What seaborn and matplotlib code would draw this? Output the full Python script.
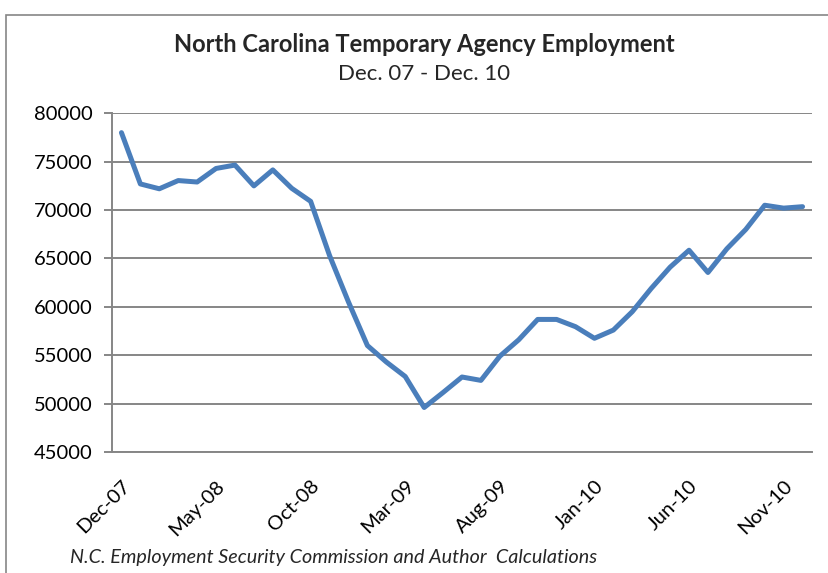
import matplotlib
matplotlib.use("Agg")
import matplotlib.pyplot as plt
import seaborn as sns
import numpy as np
import pandas as pd
from matplotlib.patches import Rectangle

months = ["Dec-07", "Jan-08", "Feb-08", "Mar-08", "Apr-08", "May-08", "Jun-08", "Jul-08",
          "Aug-08", "Sep-08", "Oct-08", "Nov-08", "Dec-08", "Jan-09", "Feb-09", "Mar-09",
          "Apr-09", "May-09", "Jun-09", "Jul-09", "Aug-09", "Sep-09", "Oct-09", "Nov-09",
          "Dec-09", "Jan-10", "Feb-10", "Mar-10", "Apr-10", "May-10", "Jun-10", "Jul-10",
          "Aug-10", "Sep-10", "Oct-10", "Nov-10", "Dec-10"]
employment = [78000, 72700, 72200, 73050, 72900, 74300, 74650, 72500, 74150, 72250,
              70900, 65300, 60500, 56000, 54300, 52800, 49600, 51150, 52750, 52400,
              54900, 56600, 58700, 58700, 57950, 56750, 57600, 59500, 61900, 64100,
              65850, 63550, 66000, 68000, 70500, 70200, 70350]
y_ticks = [45000, 50000, 55000, 60000, 65000, 70000, 75000, 80000]
label_step = 5

title = "North Carolina Temporary Agency Employment"
subtitle = "Dec. 07 - Dec. 10"
source = "N.C. Employment Security Commission and Author  Calculations"

sns.set_style("white")
plt.rcParams["font.family"] = ["Lato", "DejaVu Sans"]

df = pd.DataFrame({"idx": np.arange(len(months)), "month": months, "value": employment})

fig = plt.figure(figsize=(8.29, 5.73), dpi=100)
ax = fig.add_axes([112 / 829, 1 - 452 / 573, 700 / 829, (452 - 113.3) / 573])

grid_color = "#868686"
for yv in y_ticks:
    ax.axhline(yv, color=grid_color, lw=1.4, zorder=1)

sns.lineplot(data=df, x="idx", y="value", ax=ax, color="#4a7ebb", lw=3.6,
             solid_joinstyle="round", solid_capstyle="round", zorder=3)

ax.set_xlim(-0.5, len(months) - 0.5)
ax.set_ylim(y_ticks[0], y_ticks[-1])
ax.set_yticks(y_ticks)
ax.set_yticklabels([str(v) for v in y_ticks], fontsize=14.5, color="black")
ax.set_xticks(np.arange(0, len(months), label_step))
ax.set_xticklabels([months[i] for i in range(0, len(months), label_step)],
                   rotation=45, ha="right", va="top", rotation_mode="anchor",
                   fontsize=14.5, color="black")
ax.set_xticks(np.arange(label_step - 0.5, len(months), label_step), minor=True)
ax.tick_params(axis="x", which="major", length=0, pad=18)
ax.tick_params(axis="x", which="minor", length=6, width=1.4, color=grid_color, direction="out")
ax.tick_params(axis="y", length=6, width=1.4, color=grid_color, direction="out", pad=8, left=True)
ax.set_xlabel("")
ax.set_ylabel("")

for s in ["top", "right"]:
    ax.spines[s].set_visible(False)
for s in ["left", "bottom"]:
    ax.spines[s].set_color(grid_color)
    ax.spines[s].set_linewidth(1.4)

fig.patches.append(Rectangle((6 / 829, -0.05), 1.0, 1 - 15 / 573 + 0.05,
                             transform=fig.transFigure, fill=False,
                             edgecolor="#868686", lw=1.2))

fig.text(424 / 829, 1 - 44 / 573, title, ha="center", va="center",
         fontsize=17, fontweight="bold")
fig.text(424 / 829, 1 - 74 / 573, subtitle, ha="center", va="center", fontsize=16)
fig.text(70 / 829, 1 - 557 / 573, source, ha="left", va="center", fontsize=14.2, style="italic")

fig.savefig("out.png", dpi=100)
